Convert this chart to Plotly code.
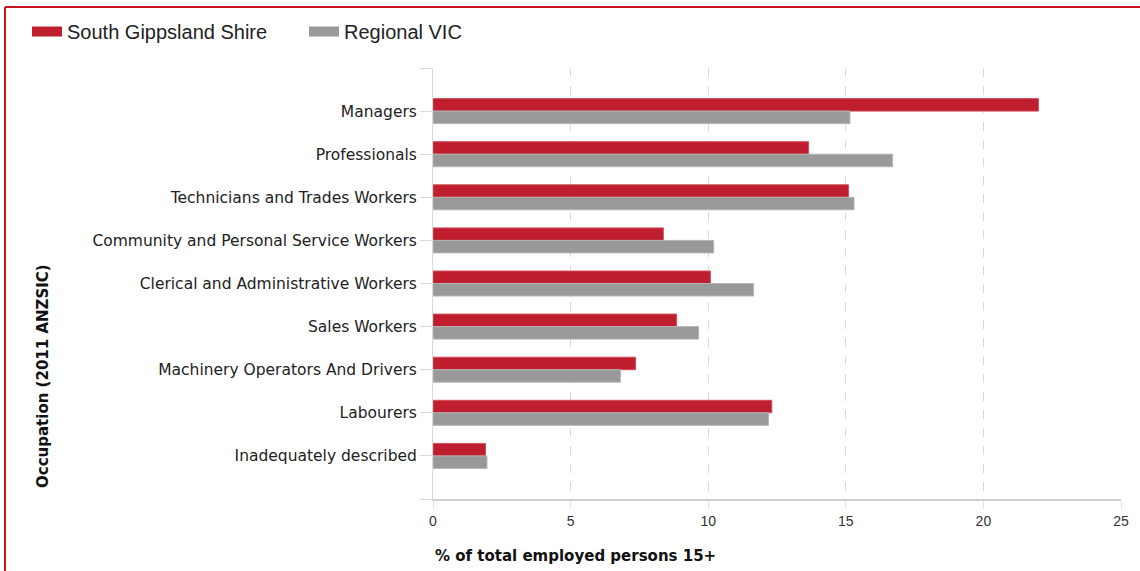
import plotly.graph_objects as go

categories = ["Managers", "Professionals", "Technicians and Trades Workers",
              "Community and Personal Service Workers", "Clerical and Administrative Workers",
              "Sales Workers", "Machinery Operators And Drivers", "Labourers",
              "Inadequately described"]
south_gippsland = [22.0, 13.65, 15.1, 8.37, 10.08, 8.85, 7.36, 12.31, 1.91]
regional_vic = [15.15, 16.7, 15.3, 10.2, 11.65, 9.65, 6.81, 12.19, 1.96]
series_names = ["South Gippsland Shire", "Regional VIC"]
x_ticks = [0, 5, 10, 15, 20, 25]

RED = "#BE1E2D"
GREY = "#999999"
W, H = 1140, 571
L, R, T, B = 433, 19, 68, 72
pw, ph = W - L - R, H - T - B

ypos = list(range(1, len(categories) + 1))
font = "Liberation Sans, Arial, sans-serif"
wide = "DejaVu Sans, Verdana, sans-serif"

fig = go.Figure()
fig.add_trace(go.Bar(y=ypos, x=south_gippsland, orientation="h", name=series_names[0],
                     marker=dict(color=RED, line=dict(color="#D0505C", width=1)),
                     showlegend=False))
fig.add_trace(go.Bar(y=ypos, x=regional_vic, orientation="h", name=series_names[1],
                     marker=dict(color=GREY, line=dict(color="#B5B5B5", width=1)),
                     showlegend=False))
# legend entries (wide swatches)
for nm, c in zip(series_names, [RED, GREY]):
    fig.add_trace(go.Scatter(x=[None], y=[None], mode="lines", name=nm,
                             line=dict(color=c, width=16), showlegend=True))

fig.update_layout(
    width=W, height=H,
    margin=dict(l=L, r=R, t=T, b=B, pad=0),
    paper_bgcolor="white", plot_bgcolor="white",
    barmode="group", bargap=0.42, bargroupgap=0,
    font=dict(family=font, size=13, color="#333333"),
    legend=dict(orientation="h", x=(27 - L) / pw, xanchor="left",
                y=(ph + T - 12) / ph, yanchor="top",
                font=dict(family=font, size=20, color="#222222"), itemwidth=30,
                entrywidth=232, entrywidthmode="pixels",
                bgcolor="rgba(0,0,0,0)"),
    xaxis=dict(range=[0, 25], tickvals=x_ticks, showgrid=True, gridcolor="#D9D9D9",
               griddash="dash", gridwidth=1, zeroline=False, showline=True,
               linecolor="#D0D0D0", linewidth=2, ticks="outside", ticklen=8,
               tickcolor="#E0E0E0", tickfont=dict(family=font, size=14, color="#333333")),
    yaxis=dict(range=[10, 0], tickvals=list(range(0, 11)),
               ticktext=[""] + categories + [""], showgrid=False, zeroline=False,
               showline=True, linecolor="#D9D9D9", linewidth=1, ticks="outside",
               ticklen=12, tickcolor="#D9D9D9",
               tickfont=dict(family=wide, size=15.5, color="#222222")),
    shapes=[
        dict(type="line", xref="paper", yref="paper",
             x0=(5 - L) / pw, x1=(W + 5 - L) / pw, y0=(H - B - 7) / ph, y1=(H - B - 7) / ph,
             line=dict(color="#C8161D", width=2)),
        dict(type="line", xref="paper", yref="paper",
             x0=(5 - L) / pw, x1=(5 - L) / pw, y0=(H - B - 7) / ph, y1=-(B + 5) / ph,
             line=dict(color="#C8161D", width=2)),
    ],
    annotations=[
        dict(text="<b>% of total employed persons 15+</b>", xref="paper", yref="paper",
             x=0, xanchor="left", y=-(556 - (H - B)) / ph, yanchor="middle",
             showarrow=False, font=dict(family=wide, size=15, color="#111111")),
        dict(text="<b>Occupation (2011 ANZSIC)</b>", xref="paper", yref="paper",
             x=(43 - L) / pw, xanchor="center", y=(H - B - 490) / ph, yanchor="bottom",
             textangle=-90, showarrow=False, font=dict(family=wide, size=15, color="#111111")),
    ],
)

fig.write_html("out.html", config={"displayModeBar": False},
               post_script="document.body.style.margin='0';")
